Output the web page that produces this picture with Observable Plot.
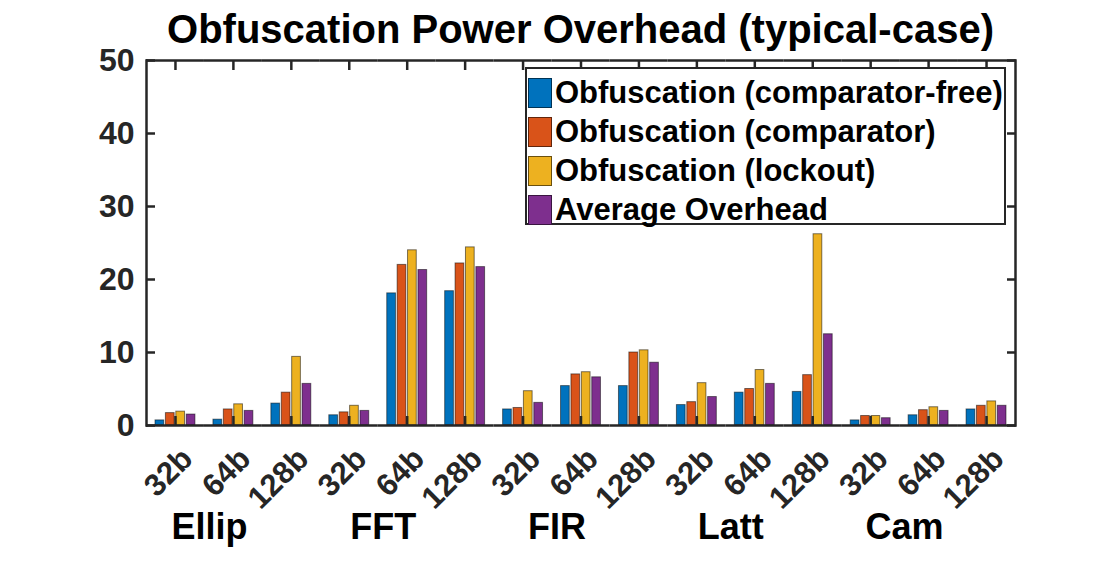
<!DOCTYPE html>
<html>
<head>
<meta charset="utf-8">
<script src="https://cdn.jsdelivr.net/npm/d3@7"></script>
<script src="https://cdn.jsdelivr.net/npm/@observablehq/plot@0.6"></script>
<style>
  body { margin: 0; background: #fff; font-family: "Liberation Sans", Arial, Helvetica, sans-serif; }
  #wrap { position: relative; width: 1119px; height: 567px; overflow: hidden; background: #fff; }
  #title { position: absolute; left: 146px; width: 869px; top: 9px; text-align: center;
           font-size: 40px; line-height: 40px; font-weight: bold; color: #000; white-space: nowrap; }
  #legend { position: absolute; left: 525px; top: 67px; width: 481px; height: 158px; box-sizing: border-box;
            border: 2px solid #262626; background: #fff; padding-top: 4px; }
  .row { display: flex; align-items: center; height: 39px; }
  .sw { width: 24px; height: 30px; margin-left: 1px; margin-right: 3px; box-sizing: border-box; border: 1px solid rgba(0,0,0,0.55); }
  .lab { font-size: 31px; font-weight: bold; color: #000; white-space: nowrap; line-height: 31px; }
</style>
</head>
<body>
<div id="wrap">
  <div id="chart"></div>
  <div id="title">Obfuscation Power Overhead (typical-case)</div>
  <div id="legend"></div>
</div>
<script>
// ---- data ----
const groups = ["Ellip", "FFT", "FIR", "Latt", "Cam"];
const bits = ["32b", "64b", "128b"];
const seriesNames = [
  "Obfuscation (comparator-free)",
  "Obfuscation (comparator)",
  "Obfuscation (lockout)",
  "Average Overhead"
];
const seriesColors = ["#0072BD", "#D95319", "#EDB120", "#7E2F8E"];
// values in group order (Ellip 32b,64b,128b, FFT ..., FIR ..., Latt ..., Cam ...)
const comparatorFree = [0.7, 0.8, 3.0, 1.4, 18.1, 18.4, 2.2, 5.4, 5.4, 2.8, 4.5, 4.6, 0.7, 1.4, 2.2];
const comparator     = [1.7, 2.2, 4.5, 1.8, 22.0, 22.2, 2.4, 7.0, 10.0, 3.2, 5.0, 6.9, 1.3, 2.1, 2.7];
const lockout        = [1.9, 2.9, 9.4, 2.7, 24.0, 24.4, 4.7, 7.3, 10.3, 5.8, 7.6, 26.2, 1.3, 2.5, 3.3];
const average        = [1.5, 2.0, 5.7, 2.0, 21.3, 21.7, 3.1, 6.6, 8.6, 3.9, 5.7, 12.5, 1.0, 2.0, 2.7];
const yTicks = [0, 10, 20, 30, 40, 50];

// ---- build table ----
const keys = [];
groups.forEach(g => bits.forEach(b => keys.push(g + "|" + b)));
const allSeries = [comparatorFree, comparator, lockout, average];
const rows = [];
keys.forEach((k, i) => {
  allSeries.forEach((vals, s) => rows.push({key: k, series: seriesNames[s], value: vals[i]}));
});
const groupLabels = groups.map(g => ({key: g + "|" + bits[1], name: g}));

const axisColor = "#262626";

const chart = Plot.plot({
  width: 1119,
  height: 567,
  marginLeft: 146,
  marginRight: 104,
  marginTop: 60,
  marginBottom: 142,
  style: {fontFamily: '"Liberation Sans", Arial, Helvetica, sans-serif', color: axisColor, background: "transparent", overflow: "visible"},
  fx: {domain: keys, padding: 0, round: false, axis: null},
  x: {domain: seriesNames, paddingInner: 0.16, paddingOuter: 0.866, round: false, axis: null},
  y: {domain: [0, 50], axis: null},
  color: {domain: seriesNames, range: seriesColors},
  marks: [
    Plot.barY(rows, {fx: "key", x: "series", y: "value", fill: "series",
      stroke: "black", strokeOpacity: 0.5, strokeWidth: 1}),
    Plot.ruleY([0], {stroke: axisColor, strokeWidth: 2.5}),
    Plot.ruleY([50], {stroke: axisColor, strokeWidth: 2.5}),
    Plot.frame({anchor: "left", facetAnchor: "left", stroke: axisColor, strokeWidth: 2.5}),
    Plot.frame({anchor: "right", facetAnchor: "right", stroke: axisColor, strokeWidth: 2.5}),
    Plot.axisY(yTicks, {anchor: "left", tickSize: -9, tickPadding: 21,
      fontSize: 32, fontWeight: "bold", stroke: axisColor, strokeWidth: 2.5, label: null}),
    Plot.axisY(yTicks, {anchor: "right", tickSize: -9, tickFormat: () => "",
      stroke: axisColor, strokeWidth: 2.5, label: null}),
    Plot.axisFx({anchor: "bottom", tickSize: -9, tickFormat: () => "", stroke: axisColor, strokeWidth: 2.5, label: null}),
    Plot.axisFx({anchor: "top", tickSize: -9, tickFormat: () => "", stroke: axisColor, strokeWidth: 2.5, label: null}),
    Plot.axisFx({anchor: "bottom", tickSize: 0, tickPadding: 28, dx: 12, tickRotate: -45,
      tickFormat: k => k.split("|")[1], fontSize: 31, fontWeight: "bold", fill: axisColor, label: null}),
    Plot.text(groupLabels, {fx: "key", text: "name", frameAnchor: "bottom", dy: 113, dx: -24,
      fontSize: 36, fontWeight: "bold", fill: "#000"})
  ]
});
document.getElementById("chart").appendChild(chart);

// ---- legend ----
const legend = document.getElementById("legend");
seriesNames.forEach((name, i) => {
  const row = document.createElement("div");
  row.className = "row";
  const sw = document.createElement("div");
  sw.className = "sw";
  sw.style.background = seriesColors[i];
  const lab = document.createElement("div");
  lab.className = "lab";
  lab.textContent = name;
  row.appendChild(sw);
  row.appendChild(lab);
  legend.appendChild(row);
});
</script>
</body>
</html>
